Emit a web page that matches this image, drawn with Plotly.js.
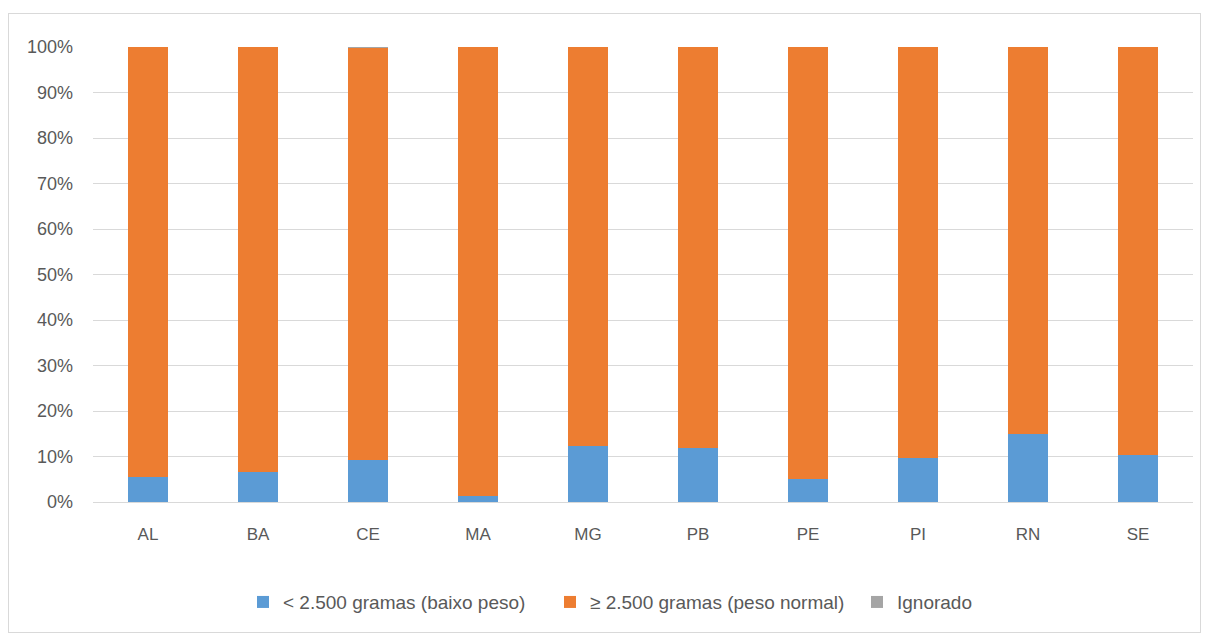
<!DOCTYPE html>
<html>
<head>
<meta charset="utf-8">
<script src="https://cdn.plot.ly/plotly-3.0.1.min.js"></script>
<style>
html,body{margin:0;padding:0;background:#fff;}
#wrap{position:relative;width:1206px;height:638px;}
#chart{width:1206px;height:638px;}
#frame{position:absolute;left:8px;top:13px;width:1191px;height:618px;border:1px solid #d9d9d9;pointer-events:none;}
</style>
</head>
<body>
<div id="wrap"><div id="chart"></div><div id="frame"></div></div>
<script>
const categories = ["AL","BA","CE","MA","MG","PB","PE","PI","RN","SE"];
const baixoPeso = [5.4, 6.5, 9.2, 1.3, 12.4, 11.8, 5.0, 9.7, 15.0, 10.3];
const ignorado  = [0, 0, 0.3, 0, 0, 0, 0, 0, 0, 0];
const pesoNormal = baixoPeso.map((b,i)=> +(100 - b - ignorado[i]).toFixed(1));
const seriesNames = ["< 2.500 gramas (baixo peso)", "≥ 2.500 gramas (peso normal)", "Ignorado"];
const seriesColors = ["#5b9bd5", "#ed7d31", "#a5a5a5"];
const seriesValues = [baixoPeso, pesoNormal, ignorado];

const font = "Liberation Sans, Arial, sans-serif";
const traces = seriesValues.map((vals, k) => ({
  type: "bar",
  name: seriesNames[k],
  x: categories,
  y: vals.map(v => v/100),
  marker: {color: seriesColors[k]},
  hoverinfo: "x+y+name"
}));

const layout = {
  width: 1206, height: 638,
  barmode: "stack",
  bargap: 0.636,
  margin: {l: 93, r: 13, t: 47, b: 136},
  paper_bgcolor: "#fff",
  plot_bgcolor: "#fff",
  font: {family: font, size: 18, color: "#595959"},
  xaxis: {
    type: "category",
    showgrid: false,
    showline: false,
    ticks: "",
    ticklabelstandoff: 20,
    tickfont: {family: font, size: 17, color: "#595959"}
  },
  yaxis: {
    range: [0, 1],
    dtick: 0.1,
    tickformat: ".0%",
    showgrid: true,
    gridcolor: "#d9d9d9",
    gridwidth: 1,
    zeroline: true,
    zerolinecolor: "#d9d9d9",
    zerolinewidth: 1,
    showline: false,
    ticks: "",
    ticklabelstandoff: 19,
    tickfont: {family: font, size: 18, color: "#595959"}
  },
  legend: {
    orientation: "h",
    x: 0.555, xanchor: "center",
    y: -0.22, yanchor: "middle",
    font: {family: font, size: 19, color: "#595959"},
    itemwidth: 30,
    entrywidth: 262,
    entrywidthmode: "pixels",
    traceorder: "normal"
  },
  showlegend: true
};

Plotly.newPlot("chart", traces, layout, {displayModeBar: false, staticPlot: true});
</script>
</body>
</html>
